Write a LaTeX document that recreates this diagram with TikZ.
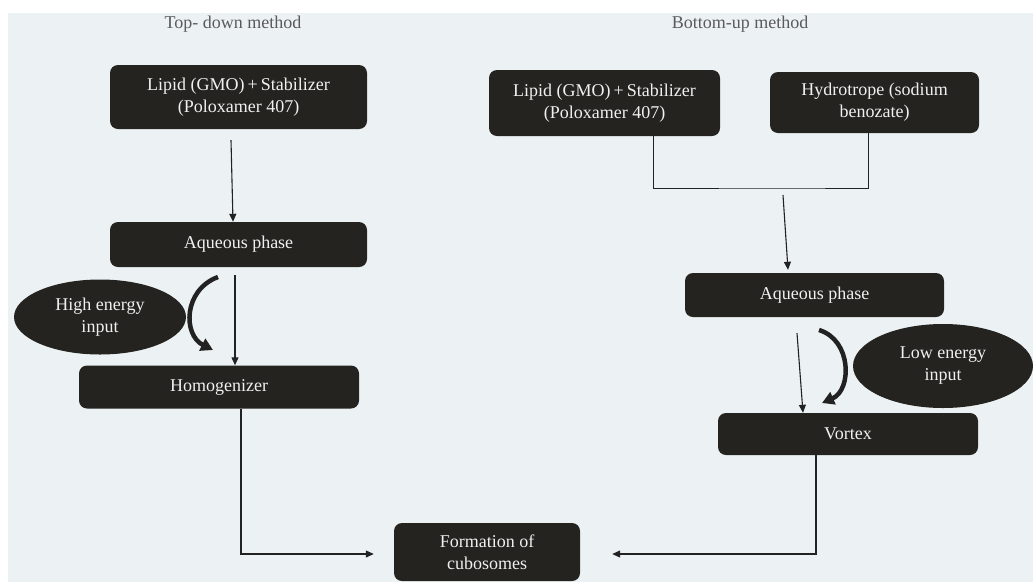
\documentclass[tikz,border=0pt]{standalone}
\usepackage{fontspec}
\setmainfont{Liberation Serif}
\usepackage{tikz}
\usetikzlibrary{shapes,arrows.meta}
\definecolor{paper}{HTML}{ECF2F4}
\definecolor{boxfill}{HTML}{252320}
\definecolor{inkline}{HTML}{222222}
\definecolor{headgray}{HTML}{5A5A5A}

\begin{document}
\begin{tikzpicture}[x=1pt,y=-1pt]
   \tikzstyle{main}=[rectangle, rounded corners=8pt, fill=boxfill, text=white!94!black, inner sep=0pt, align=center, font=\fontsize{18}{22}\selectfont]
   \tikzstyle{blob}=[ellipse, fill=boxfill, text=white!94!black, inner sep=0pt, align=center, font=\fontsize{18}{22}\selectfont]
   \tikzstyle{flow}=[draw=inkline, line width=1.1pt, -{Triangle[length=8pt,width=7pt]}]
   \tikzstyle{push}=[draw=inkline, line width=4.5pt, -{Triangle[length=12pt,width=13pt]}]
   \tikzstyle{head}=[text=headgray, font=\fontsize{18}{22}\selectfont]
   \useasboundingbox (0,0) rectangle (1033,582);
   \fill[white] (0,0) rectangle (1033,582);
   \fill[paper] (8,13) rectangle (1033,582);
   \node[head] (topdown) at (233,24) {Top- down method};
   \node[head] (bottomup) at (740,24) {Bottom-up method};
   % top-down branch
   \node[main, minimum width=257pt, minimum height=64pt] (lipidL) at (238.5,97) {Lipid (GMO)\,+\,Stabilizer\\(Poloxamer 407)};
   \node[main, minimum width=257pt, minimum height=45pt] (aqueousL) at (238.5,244.5) {Aqueous phase};
   \node[main, minimum width=280pt, minimum height=43pt] (homog) at (219,387) {Homogenizer};
   \node[blob, minimum width=172pt, minimum height=75pt] (high) at (100,317) {High energy\\input};
   % bottom-up branch
   \node[main, minimum width=231pt, minimum height=66pt] (lipidR) at (604.5,103) {Lipid (GMO)\,+\,Stabilizer\\(Poloxamer 407)};
   \node[main, minimum width=209pt, minimum height=61pt] (hydro) at (874.5,102.5) {Hydrotrope (sodium\\benozate)};
   \node[main, minimum width=259pt, minimum height=44pt] (aqueousR) at (814.5,295) {Aqueous phase};
   \node[main, minimum width=260pt, minimum height=42pt] (vortex) at (848,434) {Vortex};
   \node[blob, minimum width=180pt, minimum height=84pt] (low) at (943,366) {Low energy\\input};
   \node[main, minimum width=186pt, minimum height=58pt] (cubo) at (487,552) {Formation of\\cubosomes};
   \coordinate (join) at (783,188);
   \coordinate (hs) at (218,277);
   \coordinate (he) at (213,350);
   \coordinate (ls) at (819,330);
   \coordinate (le) at (822,403);
   \path[flow] ([xshift=-7.5pt,yshift=-11pt]lipidL.south) -- ([xshift=-5.5pt]aqueousL.north);
   \path[flow] ([xshift=-3.5pt,yshift=-8pt]aqueousL.south) -- ([xshift=16pt]homog.north);
   \path[push] (hs) .. controls (183,290) and (183,335) .. (he);
   \draw[inkline, line width=0.9pt] ([xshift=48.5pt]lipidR.south) |- (join) -| ([xshift=-6.5pt]hydro.south);
   \path[flow] ([yshift=-7pt]join) -- ([xshift=-26.5pt,yshift=3pt]aqueousR.north);
   \path[flow] ([xshift=-17.5pt,yshift=-16pt]aqueousR.south) -- ([xshift=-45pt]vortex.north);
   \path[push] (ls) .. controls (852,340) and (852,390) .. (le);
   \path[flow] ([xshift=22pt]homog.south) |- ([xshift=-20pt,yshift=-2pt]cubo.west);
   \path[flow] ([xshift=-32pt]vortex.south) |- ([xshift=32pt,yshift=-2pt]cubo.east);
\end{tikzpicture}
\end{document}
